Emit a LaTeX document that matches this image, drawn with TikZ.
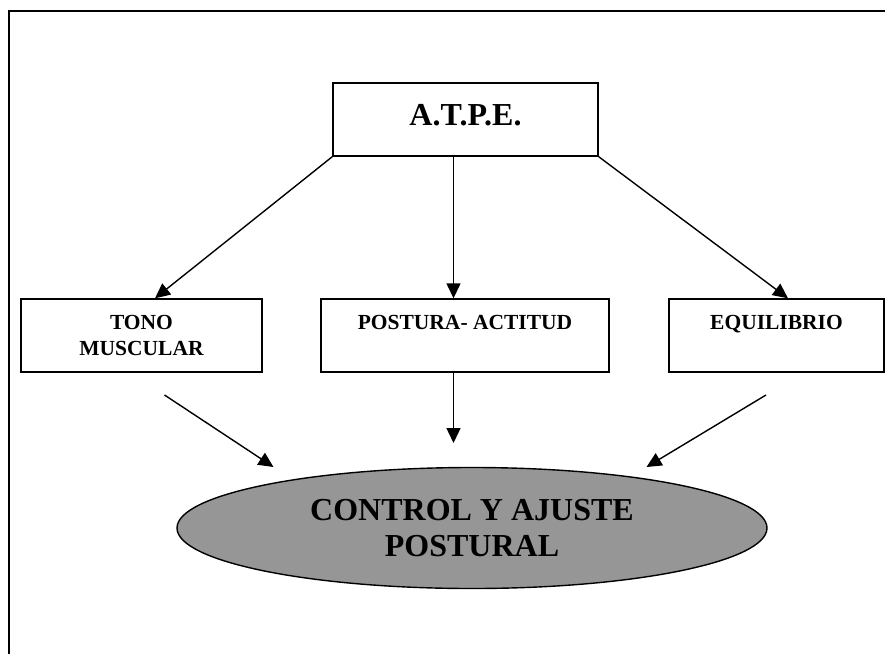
\documentclass[tikz,border=0pt]{standalone}
\usepackage{fontspec}
\setmainfont{Liberation Serif}
\usepackage{xcolor}
\usetikzlibrary{arrows.meta,shapes.geometric}
\definecolor{ovalgray}{RGB}{150,150,150}

\begin{document}
\begin{tikzpicture}[x=1pt,y=-1pt,
  box/.style={draw,line width=1.4pt,inner sep=0pt,minimum height=73pt,align=center,font=\fontsize{21.5}{26}\selectfont\bfseries},
  arr/.style={line width=1.4pt,-{Triangle[length=15pt,width=14pt]}}]
\useasboundingbox (0,0) rectangle (885,653);
\draw[line width=2pt] (9,660) -- (9,11) -- (890,11);
\node[box,minimum width=265pt,font=\fontsize{32}{36}\selectfont\bfseries,text height=22pt,text depth=11pt] (atpe) at (465.5,119.5) {A.T.P.E.};
\node[box,minimum width=241pt] (tono) at (141.5,335.5) {TONO\\MUSCULAR};
\node[box,minimum width=288pt] (postura) at (465,335.5) {POSTURA- ACTITUD\\\phantom{M}};
\node[box,minimum width=215pt] (equi) at (776.5,335.5) {EQUILIBRIO\\\phantom{M}};
\node[draw,ellipse,line width=1.4pt,fill=ovalgray,minimum width=590pt,minimum height=121pt,inner sep=0pt,align=center,font=\fontsize{32}{36}\selectfont\bfseries] (ctrl) at (472,528) {CONTROL Y AJUSTE\\POSTURAL};
\coordinate (tonoout) at (164.5,395);
\coordinate (tonoin) at (273.5,467);
\coordinate (posturain) at (453.5,443);
\coordinate (equiout) at (766,395);
\coordinate (equiin) at (646.5,467);
\draw[arr] (atpe.south west) -- ([xshift=13.5pt]tono.north);
\draw[arr] ([xshift=-12pt]atpe.south) -- ([xshift=-11.5pt]postura.north);
\draw[arr] (atpe.south east) -- ([xshift=11.5pt]equi.north);
\draw[arr] (tonoout) -- (tonoin);
\draw[arr] ([xshift=-11.5pt]postura.south) -- (posturain);
\draw[arr] (equiout) -- (equiin);
\end{tikzpicture}
\end{document}
